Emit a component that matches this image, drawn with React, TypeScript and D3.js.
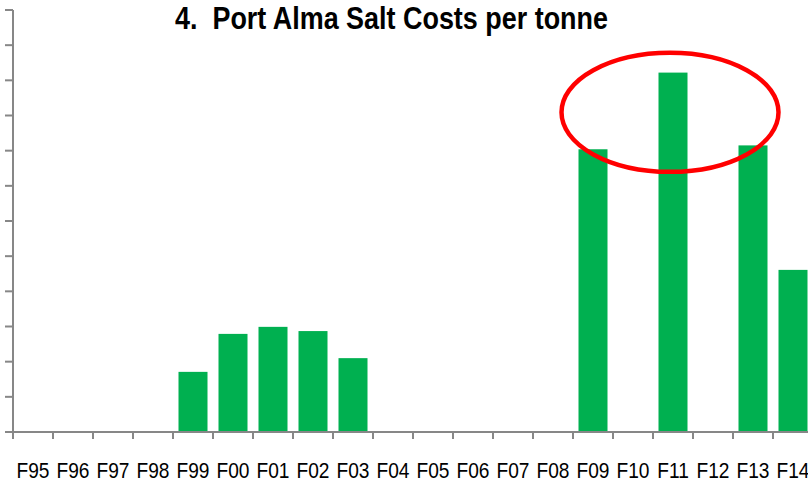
import React from "react";
import * as d3 from "d3";

const categories = ["F95","F96","F97","F98","F99","F00","F01","F02","F03","F04","F05","F06","F07","F08","F09","F10","F11","F12","F13","F14"];
const values = [0,0,0,0,1.71,2.79,2.99,2.87,2.10,0,0,0,0,0,8.04,0,10.22,0,8.15,4.61];
const yTicks = [0,1,2,3,4,5,6,7,8,9,10,11,12];
const title = "4.\u00A0 Port Alma Salt Costs per tonne";
const highlightCategory = "F11";
const highlightValue = 9.09;

const W = 808, H = 482;
const FONT = "'Liberation Sans', Arial, sans-serif";

export default function App() {
  const x = d3.scaleBand<string>().domain(categories).range([13, 813]).paddingInner(0.275).paddingOuter(0.1375);
  const y = d3.scaleLinear().domain([0, 12]).range([432, 10]);
  const step = x.step();
  const axisColor = "#878787";
  const hx = (x(highlightCategory) as number) + x.bandwidth() / 2 - 3;
  const hy = y(highlightValue);
  return (
    <svg width={W} height={H} style={{ position: "absolute", left: 0, top: 0, background: "#fff" }}>
      <text x={175} y={29} textLength={433} lengthAdjust="spacingAndGlyphs" fontFamily={FONT} fontWeight="bold" fontSize={30.5} fill="#000">{title}</text>
      {categories.map((c, i) => (
        <rect key={c} x={x(c)} y={y(values[i])} width={x.bandwidth()} height={y(0) - y(values[i])} fill="#00B050" />
      ))}
      <line x1={13} x2={13} y1={y(12)} y2={y(0)} stroke={axisColor} strokeWidth={2} />
      {yTicks.map(t => (
        <line key={t} x1={5} x2={13} y1={y(t)} y2={y(t)} stroke={axisColor} strokeWidth={2} />
      ))}
      <line x1={12} x2={W} y1={y(0)} y2={y(0)} stroke={axisColor} strokeWidth={2} />
      {categories.map((c) => {
        const left = (x(c) as number) - (step - x.bandwidth()) / 2;
        return <line key={"t" + c} x1={left} x2={left} y1={y(0)} y2={y(0) + 7} stroke={axisColor} strokeWidth={2} />;
      })}
      {categories.map(c => (
        <text key={"l" + c} transform={`translate(${(x(c) as number) + x.bandwidth() / 2},478) scale(0.87,1)`} textAnchor="middle" fontFamily={FONT} fontSize={22} fill="#000">{c}</text>
      ))}
      <ellipse cx={hx} cy={hy} rx={108.5} ry={59.5} fill="none" stroke="#FF0000" strokeWidth={4.5} />
    </svg>
  );
}
